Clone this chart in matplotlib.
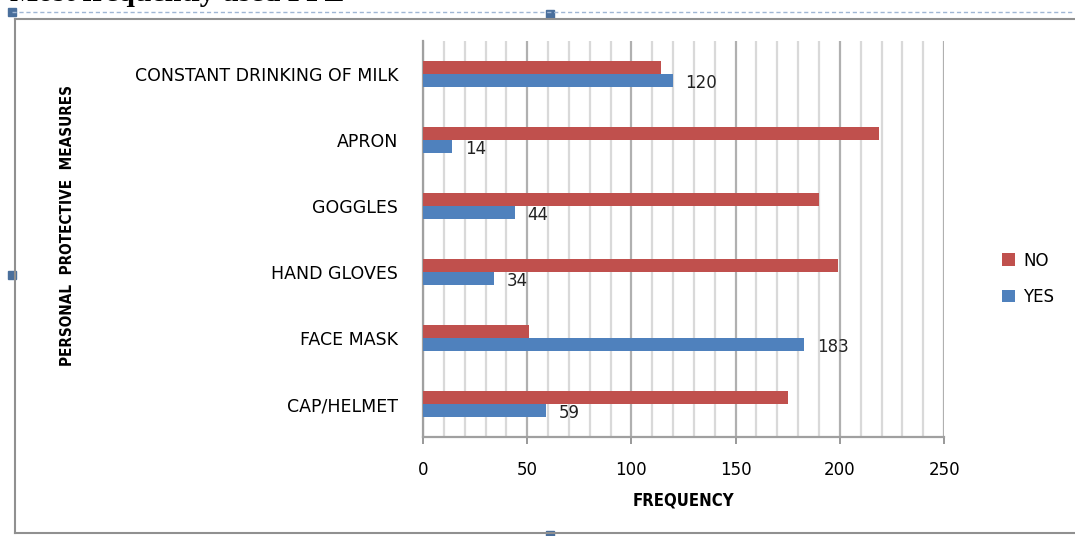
import numpy as np
import matplotlib.pyplot as plt
from matplotlib.lines import Line2D
from matplotlib.patches import Rectangle
from matplotlib.ticker import MultipleLocator

# categories bottom to top
medidas = ["CAP/HELMET", "FACE MASK", "HAND GLOVES", "GOGGLES", "APRON",
           "CONSTANT DRINKING OF MILK"]
si = [59, 183, 34, 44, 14, 120]
no = [175, 51, 199, 190, 219, 114]

rojo = "#C0504D"
azul = "#4F81BD"

fig = plt.figure(figsize=(10.75, 5.36), dpi=100)
ax = fig.add_axes([0.3935, 0.1847, 0.4847, 0.7388])

y = np.arange(len(medidas))
alto = 0.2
ax.barh(y + alto / 2, no, height=alto, color=rojo, label="NO", zorder=3)
ax.barh(y - alto / 2, si, height=alto, color=azul, label="YES", zorder=3)

# etiquetas de valor solo para YES
for yi, v in zip(y, si):
    ax.text(v + 6, yi - alto / 2 - 0.04, str(v), va="center", ha="left",
            fontsize=12, color="#222222", zorder=4)

ax.set_xlim(0, 250)
ax.set_ylim(-0.5, len(medidas) - 0.5)
ax.set_yticks(y)
ax.set_yticklabels(medidas, fontsize=12.5)
ax.xaxis.set_major_locator(MultipleLocator(50))
ax.xaxis.set_minor_locator(MultipleLocator(10))
ax.tick_params(axis="x", which="major", length=5, width=1.2, color="#888888",
               labelsize=12, pad=12)
ax.tick_params(axis="x", which="minor", length=0)
ax.tick_params(axis="y", length=0, pad=18)

ax.grid(axis="x", which="minor", color="#d9d9d9", linewidth=1.6, zorder=0)
ax.grid(axis="x", which="major", color="#b0b0b0", linewidth=1.6, zorder=0)
for lado in ["top", "right"]:
    ax.spines[lado].set_visible(False)
ax.spines["left"].set_color("#a0a0a0")
ax.spines["left"].set_linewidth(1.6)
ax.spines["bottom"].set_color("#a0a0a0")
ax.spines["bottom"].set_linewidth(1.6)

ax.set_xlabel("FREQUENCY", fontsize=12, fontweight="bold", labelpad=9,
              fontstretch="condensed", family="DejaVu Sans")
fig.text(0.0625, 0.58, "PERSONAL  PROTECTIVE  MEASURES", rotation=90,
         fontsize=11, fontweight="bold", va="center", ha="center",
         fontstretch="condensed", family="DejaVu Sans")

handles, labels = ax.get_legend_handles_labels()
fig.legend(handles, labels, loc="center left", bbox_to_anchor=(0.918, 0.48),
           frameon=False, fontsize=12, handlelength=0.8, handleheight=0.8,
           handletextpad=0.5, labelspacing=1.1)

# marco exterior y linea discontinua
W, H = 1075, 536
def px(x, yy):
    return x / W, 1 - yy / H

fig.add_artist(Line2D([px(15, 0)[0], 1], [px(0, 19)[1]] * 2,
                      color="#909090", linewidth=1.5))
fig.add_artist(Line2D([px(15, 0)[0]] * 2, [px(0, 19)[1], px(0, 533)[1]],
                      color="#909090", linewidth=1.5))
fig.add_artist(Line2D([px(15, 0)[0], 1], [px(0, 533)[1]] * 2,
                      color="#909090", linewidth=1.5))
fig.add_artist(Line2D([px(12, 0)[0], 1], [px(0, 12)[1]] * 2,
                      color="#9fb6d4", linewidth=1.0, linestyle=(0, (3, 2))))
for hx, hy in [(12, 12), (550, 14), (12, 275), (550, 535)]:
    cx, cy = px(hx, hy)
    fig.add_artist(Rectangle((cx - 4 / W, cy - 4 / H), 8 / W, 8 / H,
                             color="#4a6f9c", transform=fig.transFigure))

fig.text(px(10, 0)[0], px(0, 1)[1], "Most frequently used PPE", fontsize=21.5,
         fontweight="bold", family="Liberation Serif", va="baseline", ha="left")

fig.savefig("out.png", dpi=100)
